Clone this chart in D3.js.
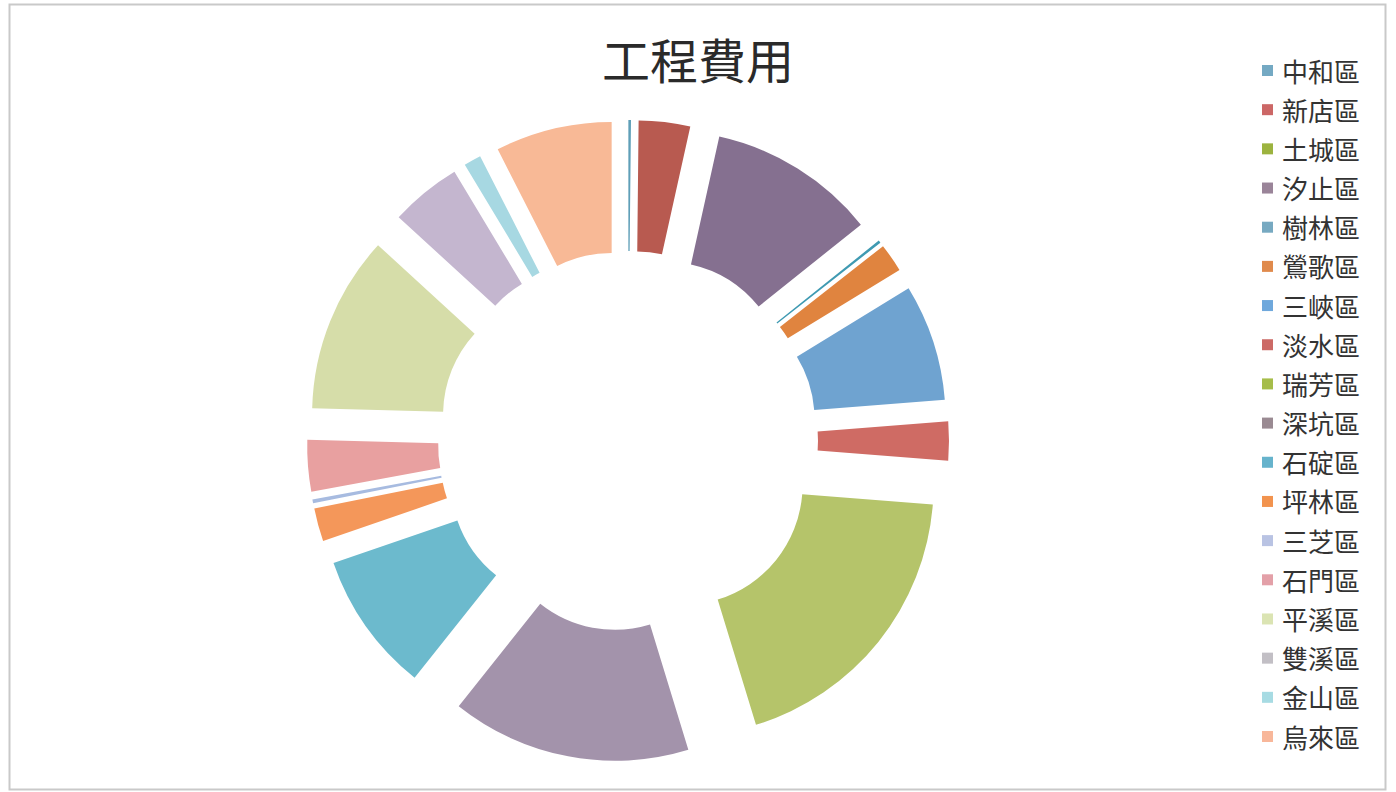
<!DOCTYPE html>
<html>
<head>
<meta charset="utf-8">
<script src="https://cdn.jsdelivr.net/npm/d3@7"></script>
<style>
  html, body { margin: 0; padding: 0; background: #fff; }
  svg { display: block; }
</style>
</head>
<body>
<div id="chart"></div>
<script>
// 工程費用 – donut chart with exploded slices (Excel style)

// data (relative cost, estimated)
const districts = ["中和區", "新店區", "土城區", "汐止區", "樹林區", "鶯歌區", "三峽區", "淡水區", "瑞芳區",
                   "深坑區", "石碇區", "坪林區", "三芝區", "石門區", "平溪區", "雙溪區", "金山區", "烏來區"];
const costs = [6, 119, 0, 388, 6, 66, 270, 90, 685, 555, 325, 77, 9, 119, 410, 165, 40, 270];

const palette = ["#5f9fb8", "#b85a50", "#9fb54a", "#857090", "#3f9ab2", "#e0843f", "#6fa3d0", "#cf6b64", "#b5c46a",
                 "#a393ab", "#6cbacd", "#f4975a", "#a7bbe0", "#e8a0a0", "#d6dda9", "#c4b6cf", "#a7d8e2", "#f8b996"];
const legendPalette = ["#74a9c3", "#cc6766", "#9cb33f", "#9a8499", "#77a9c1", "#e08a4c", "#6fa8dc", "#cc6a66", "#a6bd4a",
                       "#9a8a92", "#66b3cc", "#f2934e", "#b9c3e3", "#e3a0a8", "#dbe4b3", "#c2bfc5", "#a7dbe3", "#f8b79a"];

/* ── layout ─────────────────────────────────────────── */
const W = 1396, H = 792;
const cx = 628, cy = 441;
const outerR = 251, innerR = 120;
const explode = 70; // each slice is pushed out along its bisector

const svg = d3.select("#chart").append("svg")
  .attr("width", W)
  .attr("height", H);

// outer frame
svg.append("rect")
  .attr("x", 9.5).attr("y", 4.5)
  .attr("width", 1376).attr("height", 785)
  .attr("fill", "#fff")
  .attr("stroke", "#c9c9c9")
  .attr("stroke-width", 2);

// title
svg.append("text")
  .attr("x", 698).attr("y", 58)
  .attr("text-anchor", "middle")
  .attr("dominant-baseline", "central")
  .attr("font-family", "'Noto Sans CJK TC', 'Noto Sans CJK SC', sans-serif")
  .attr("font-size", 48)
  .attr("fill", "#2a2a2a")
  .text("工程費用");

/* ── donut ──────────────────────────────────────────── */
const table = districts.map((name, i) => ({ name, value: costs[i], color: palette[i] }));

const pie = d3.pie().sort(null).value(d => d.value);
const arc = d3.arc().innerRadius(innerR).outerRadius(outerR);

const g = svg.append("g").attr("transform", `translate(${cx},${cy})`);

g.selectAll("path")
  .data(pie(table).filter(d => d.data.value > 0))
  .join("path")
  .attr("d", arc)
  .attr("fill", d => d.data.color)
  .attr("transform", d => {
    const mid = (d.startAngle + d.endAngle) / 2;
    return `translate(${explode * Math.sin(mid)},${-explode * Math.cos(mid)})`;
  });

/* ── legend ─────────────────────────────────────────── */
const ly = d3.scalePoint().domain(districts).range([70, 736]);

const legend = svg.append("g");
const items = legend.selectAll("g")
  .data(districts)
  .join("g")
  .attr("transform", d => `translate(1262,${ly(d)})`);

items.append("rect")
  .attr("x", 0).attr("y", -5)
  .attr("width", 11).attr("height", 11)
  .attr("fill", (d, i) => legendPalette[i]);

items.append("text")
  .attr("x", 20).attr("y", 0)
  .attr("dominant-baseline", "central")
  .attr("font-family", "'Noto Sans CJK TC', 'Noto Sans CJK SC', sans-serif")
  .attr("font-size", 26)
  .attr("fill", "#333")
  .text(d => d);
</script>
</body>
</html>
